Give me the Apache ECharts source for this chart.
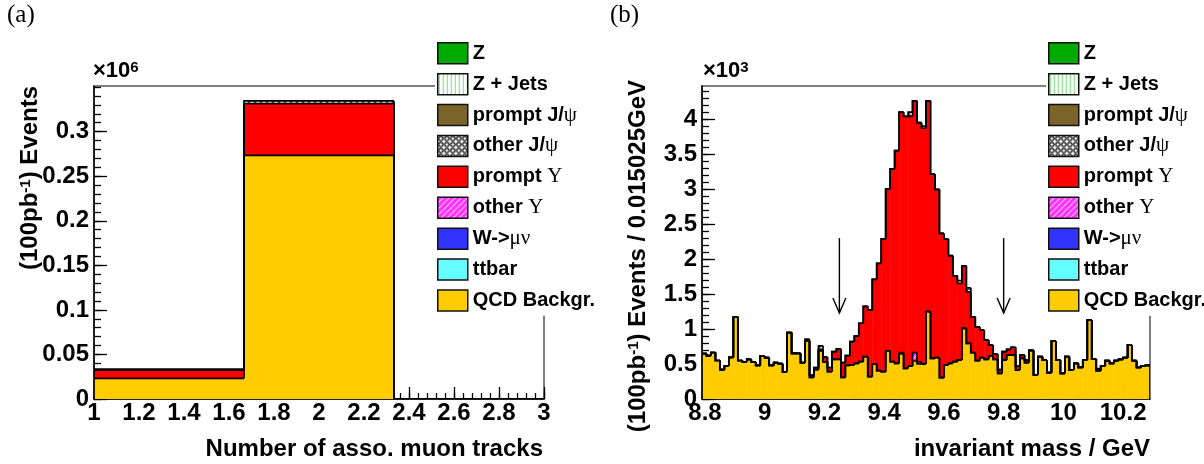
<!DOCTYPE html>
<html><head><meta charset="utf-8">
<script src="https://cdn.jsdelivr.net/npm/echarts@6/dist/echarts.min.js"></script>
<style>html,body{margin:0;padding:0;background:#fff}#c{width:1204px;height:464px}</style>
</head><body><div id="c"></div><script>
// ---------- Panel (a): number of associated muon tracks (values x10^6) ----------
const muonBinEdges = [1, 1.6667, 2.3333, 3];
const muonQCD = [0.0232, 0.2733, 0];
const muonPromptY = [0.0092, 0.0581, 0];
const muonOtherJpsi = [0.0011, 0.0031, 0];
const muonXTicks = [1, 1.2, 1.4, 1.6, 1.8, 2, 2.2, 2.4, 2.6, 2.8, 3];
const muonYTicks = [0, 0.05, 0.1, 0.15, 0.2, 0.25, 0.3];
const muonYMax = 0.3512;

// ---------- Panel (b): invariant mass (values x10^3), 100 bins ----------
const massMin = 8.79, massBinWidth = 0.015;
const massQCD = [
  0.65,0.62,0.665,0.55,0.42,0.47,0.595,1.176,0.55,0.53,
  0.565,0.53,0.48,0.614,0.59,0.48,0.52,0.505,0.386,0.95,
  0.652,0.652,0.52,0.83,0.31,0.42,0.69,0.53,0.39,0.567,
  0.567,0.31,0.48,0.486,0.51,0.533,0.605,0.32,0.50,0.405,
  0.39,0.69,0.533,0.51,0.643,0.438,0.471,0.543,0.50,0.50,
  1.248,0.58,0.59,0.305,0.486,0.51,0.533,0.557,1.01,0.795,
  0.662,0.548,0.59,0.567,0.614,0.567,0.367,0.557,0.63,0.63,
  0.414,0.58,0.52,0.69,0.343,0.605,0.557,0.376,0.829,0.557,
  0.367,0.605,0.414,0.51,0.452,0.557,1.13,0.571,0.405,0.471,
  0.548,0.51,0.548,0.567,0.59,0.771,0.548,0.452,0.471,0.48];
const massOtherY = [
  0,0,0,0,0,0,0,0,0,0, 0,0,0,0,0,0,0,0,0,0,
  0,0,0,0,0,0,0,0,0,0, 0,0,0,0,0,0,0,0,0,0,
  0,0,0,0,0.02,0,0,0.12,0.03,0, 0,0,0,0,0,0,0,0,0,0,
  0,0,0,0,0,0,0,0,0,0, 0,0,0,0,0,0,0,0,0,0,
  0,0,0,0,0,0,0,0,0,0, 0,0,0,0,0,0,0,0,0,0];
const massPromptY = [
  0,0,0,0,0,0,0,0,0,0,
  0,0,0,0,0,0,0,0,0,0,
  0,0,0,0,0.03,0.03,0.02,0.07,0.06,0.11,
  0.15,0.21,0.14,0.334,0.39,0.55,0.72,0.95,1.21,1.535,
  1.90,2.31,2.757,3.04,3.437,3.602,3.569,3.599,3.42,3.37,
  3.014,2.634,2.405,2.062,1.80,1.538,1.229,1.095,0.895,0.738,
  0.514,0.482,0.396,0.276,0.157,0.076,0.053,0.119,0.08,0.11,
  0.056,0.05,0.037,0.01,0,0,0,0,0,0,
  0,0,0,0,0,0,0,0,0,0,
  0,0,0,0,0,0,0,0,0,0];
const massOtherJpsi = [
  0,0,0,0,0,0,0,0,0,0, 0,0,0,0,0,0,0,0,0,0,
  0,0,0,0.025,0,0,0.05,0,0,0, 0,0,0,0,0,0,0,0,0,0,
  0,0,0,0,0,0,0.06,0,0,0.03, 0,0,0,0,0,0,0,0.04,0,0.057,
  0,0,0,0,0,0,0,0,0,0, 0,0,0,0,0,0,0,0,0,0,
  0,0,0,0,0,0,0,0,0.03,0, 0,0,0,0,0,0,0,0,0,0];
const massXTicks = [8.8, 9, 9.2, 9.4, 9.6, 9.8, 10, 10.2];
const massYTicks = [0, 0.5, 1, 1.5, 2, 2.5, 3, 3.5, 4];
const massYMax = 4.474;
const massCutValues = [9.25, 9.8];
const arrowFrom = 2.3, arrowTo = 1.23;

// ---------- legend ----------
const legendNames = ['Z', 'Z + Jets', 'prompt J/ψ', 'other J/ψ', 'prompt Υ', 'other Υ', 'W->μν', 'ttbar', 'QCD Backgr.'];

function makePattern(w, h, draw) {
  const c = document.createElement('canvas'); c.width = w; c.height = h;
  const g = c.getContext('2d'); g.fillStyle = '#fff'; g.fillRect(0, 0, w, h); draw(g);
  return { image: c, repeat: 'repeat' };
}
const patZJ = makePattern(4, 4, g => { g.fillStyle = '#77e077'; g.fillRect(1, 0, 1, 4); });
const patOtherJ = makePattern(6, 6, g => { g.strokeStyle = '#000'; g.lineWidth = 1.2; g.beginPath(); g.arc(3, 3, 2.2, 0, Math.PI * 2); g.stroke(); });
const patOtherY = makePattern(6, 6, g => {
  g.fillStyle = '#ff33ff'; g.fillRect(0, 0, 6, 6);
  g.strokeStyle = '#fff'; g.lineWidth = 1;
  g.beginPath(); g.moveTo(0, 6); g.lineTo(6, 0); g.moveTo(-3, 3); g.lineTo(3, -3); g.moveTo(3, 9); g.lineTo(9, 3); g.stroke();
});
const fills = {
  'Z': '#00aa00', 'Z + Jets': patZJ, 'prompt J/ψ': '#7b6429', 'other J/ψ': patOtherJ,
  'prompt Υ': '#ff0000', 'other Υ': patOtherY, 'W->μν': '#3333ff', 'ttbar': '#66ffff', 'QCD Backgr.': '#ffcc00'
};

// stacking bottom -> top
function stackRows(edges, layers) {
  const n = edges.length - 1, base = [];
  for (let i = 0; i < n; i++) base.push(0);
  return layers.map(vals => {
    if (!vals) return [];
    const rows = [];
    for (let i = 0; i < n; i++) rows.push([edges[i], edges[i + 1], base[i], base[i] + vals[i]]);
    for (let i = 0; i < n; i++) base[i] = rows[i][3];
    return rows;
  });
}
function fillRender(rows, fill) {
  return function (params, api) {
    const r = rows[params.dataIndex];
    if (!(r[3] > r[2])) return null;
    const bl = api.coord([r[0], r[2]]), tr = api.coord([r[1], r[3]]);
    return { type: 'rect', shape: { x: bl[0], y: tr[1], width: tr[0] - bl[0] + 0.5, height: bl[1] - tr[1] }, style: { fill: fill } };
  };
}
function lineRender(rows) {
  return function (params, api) {
    const i = params.dataIndex, r = rows[i];
    const prevHi = i > 0 ? rows[i - 1][3] : r[2];
    const a = api.coord([r[0], prevHi]), b = api.coord([r[0], r[3]]), c = api.coord([r[1], r[3]]);
    const pts = [a, b, c];
    if (i === rows.length - 1) pts.push(api.coord([r[1], r[2]]));
    return { type: 'polyline', shape: { points: pts }, style: { stroke: '#000', lineWidth: 1.7, fill: null } };
  };
}
function histSeries(edges, layerDefs, xi, yi) {
  const rowsList = stackRows(edges, layerDefs.map(d => d[1]));
  const out = [];
  layerDefs.forEach((d, k) => {
    const rows = rowsList[k];
    out.push({ type: 'custom', name: d[0], xAxisIndex: xi, yAxisIndex: yi, clip: true, z: 2,
      renderItem: fillRender(rows, fills[d[0]]), data: rows, encode: { x: [0, 1], y: [2, 3] }, silent: true });
    out.push({ type: 'custom', name: d[0], xAxisIndex: xi, yAxisIndex: yi, clip: true, z: 3,
      renderItem: lineRender(rows), data: rows, encode: { x: [0, 1], y: [2, 3] }, silent: true });
  });
  return out;
}

const massEdges = [];
for (let i = 0; i <= massQCD.length; i++) massEdges.push(+(massMin + i * massBinWidth).toFixed(4));

function minorList(a, b, step) { const r = []; for (let v = a; v <= b + 1e-9; v += step) r.push(Math.round(v * 10000) / 10000); return r; }

const FONT = 'Liberation Sans';
const lab = { fontFamily: FONT, fontWeight: 'bold', fontSize: 24, color: '#000' };

function xAxes(grid, min, max, majors, minors) {
  return [
    { type: 'value', gridIndex: grid, min, max, position: 'bottom',
      axisLine: { show: true, onZero: false, lineStyle: { color: '#000', width: 1.5 } },
      axisTick: { show: true, inside: true, length: 12, customValues: majors, lineStyle: { color: '#000', width: 1.3 } },
      axisLabel: Object.assign({ customValues: majors, margin: 2, showMinLabel: true, showMaxLabel: true }, lab),
      splitLine: { show: false } },
    { type: 'value', gridIndex: grid, min, max, position: 'bottom',
      axisLine: { show: false, onZero: false },
      axisTick: { show: true, inside: true, length: 6, customValues: minors, lineStyle: { color: '#000', width: 1.3 } },
      axisLabel: { show: false }, splitLine: { show: false } }
  ];
}
function yAxes(grid, min, max, majors, minors) {
  return [
    { type: 'value', gridIndex: grid, min, max, position: 'left',
      axisLine: { show: true, onZero: false, lineStyle: { color: '#000', width: 1.5 } },
      axisTick: { show: true, inside: true, length: 13, customValues: majors, lineStyle: { color: '#000', width: 1.3 } },
      axisLabel: Object.assign({ customValues: majors, margin: 5 }, lab),
      splitLine: { show: false } },
    { type: 'value', gridIndex: grid, min, max, position: 'left',
      axisLine: { show: false, onZero: false },
      axisTick: { show: true, inside: true, length: 7, customValues: minors, lineStyle: { color: '#000', width: 1.3 } },
      axisLabel: { show: false }, splitLine: { show: false } }
  ];
}

function legendFor(left) {
  return {
    orient: 'vertical', left: left, top: 40, padding: [2, 4, 4, 2], backgroundColor: '#fff',
    itemWidth: 30, itemHeight: 21, itemGap: 8.4, selectedMode: false, z: 10,
    data: legendNames.map(n => ({ name: n, icon: 'rect', itemStyle: { color: fills[n], borderColor: '#111', borderWidth: 1.5 } })),
    formatter: n => n.replace(/([ψΥμν]+)/g, '{g|$1}'),
    textStyle: { fontFamily: FONT, fontWeight: 'bold', fontSize: 20, lineHeight: 21, color: '#000',
      rich: { g: { fontFamily: 'Liberation Serif', fontWeight: 'normal', fontSize: 21, lineHeight: 21, color: '#000' } } }
  };
}

const layerOrder = (qcd, otherY, promptY, otherJ) => [
  ['QCD Backgr.', qcd], ['ttbar', null], ['W->μν', null], ['other Υ', otherY], ['prompt Υ', promptY],
  ['other J/ψ', otherJ], ['prompt J/ψ', null], ['Z + Jets', null], ['Z', null]
];

const series = [].concat(
  histSeries(muonBinEdges, layerOrder(muonQCD, null, muonPromptY, muonOtherJpsi), 0, 0),
  histSeries(massEdges, layerOrder(massQCD, massOtherY, massPromptY, massOtherJpsi), 2, 2),
  [{
    type: 'custom', name: 'cuts', xAxisIndex: 2, yAxisIndex: 2, z: 4, silent: true,
    data: massCutValues.map(v => [v, arrowFrom, arrowTo]),
    encode: { x: 0, y: [1, 2] },
    renderItem: function (params, api) {
      const top = api.coord([api.value(0), api.value(1)]), tip = api.coord([api.value(0), api.value(2)]);
      return { type: 'group', children: [
        { type: 'line', shape: { x1: top[0], y1: top[1], x2: tip[0], y2: tip[1] }, style: { stroke: '#000', lineWidth: 1.4 } },
        { type: 'polyline', shape: { points: [[tip[0] - 6.5, tip[1] - 15], tip, [tip[0] + 6.5, tip[1] - 15]] }, style: { stroke: '#000', lineWidth: 1.4, fill: null } }
      ] };
    }
  }]
);

const supRich = { sup: { fontFamily: FONT, fontWeight: 'bold', fontSize: 15, verticalAlign: 'top', color: '#000' } };
const titleStyle = (text, extra) => Object.assign({ text, fontFamily: FONT, fontWeight: 'bold', fontSize: 24, fill: '#000', rich: supRich }, extra);

const option = {
  animation: false,
  backgroundColor: '#fff',
  grid: [
    { left: 94, right: 660, top: 86, bottom: 65, show: true, borderColor: '#555', borderWidth: 1.5, backgroundColor: 'transparent' },
    { left: 702, right: 54, top: 86, bottom: 65, show: true, borderColor: '#555', borderWidth: 1.5, backgroundColor: 'transparent' }
  ],
  xAxis: [].concat(
    xAxes(0, 1, 3, muonXTicks, minorList(1, 3, 0.04)),
    xAxes(1, massMin, massMin + massQCD.length * massBinWidth, massXTicks, minorList(8.8, 10.25, 0.05))
  ),
  yAxis: [].concat(
    yAxes(0, 0, muonYMax, muonYTicks, minorList(0, 0.35, 0.01)),
    yAxes(1, 0, massYMax, massYTicks, minorList(0, 4.4, 0.1))
  ),
  legend: [legendFor(435), legendFor(1046)],
  series: series,
  graphic: [
    { type: 'text', left: 7, top: 3, style: { text: '(a)', fontFamily: 'Liberation Serif', fontSize: 25, fill: '#000' } },
    { type: 'text', left: 610, top: 3, style: { text: '(b)', fontFamily: 'Liberation Serif', fontSize: 25, fill: '#000' } },
    { type: 'text', left: 93, top: 60, style: { text: '×10{sup|6}', fontFamily: FONT, fontWeight: 'bold', fontSize: 22, fill: '#000', rich: supRich } },
    { type: 'text', left: 703, top: 60, style: { text: '×10{sup|3}', fontFamily: FONT, fontWeight: 'bold', fontSize: 22, fill: '#000', rich: supRich } },
    { type: 'text', x: 30, y: 86, rotation: Math.PI / 2, style: titleStyle('(100pb{sup|-1}) Events', { align: 'right', verticalAlign: 'middle' }) },
    { type: 'text', x: 638, y: 80, rotation: Math.PI / 2, style: titleStyle('(100pb{sup|-1}) Events / 0.015025GeV', { align: 'right', verticalAlign: 'middle' }) },
    { type: 'text', x: 543, y: 449, style: titleStyle('Number of asso. muon tracks', { align: 'right', verticalAlign: 'middle' }) },
    { type: 'text', x: 1150, y: 449, style: titleStyle('invariant mass / GeV', { align: 'right', verticalAlign: 'middle' }) }
  ]
};

const chart = echarts.init(document.getElementById('c'), null, { renderer: 'canvas' });
chart.setOption(option);
</script></body></html>
